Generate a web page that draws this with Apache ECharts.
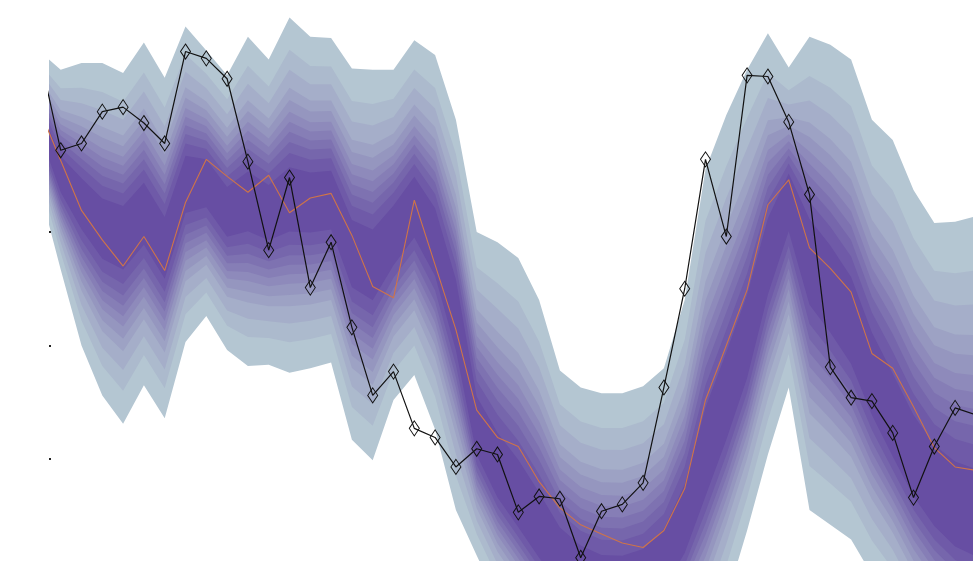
<!DOCTYPE html>
<html><head><meta charset="utf-8">
<script src="https://cdn.jsdelivr.net/npm/echarts@6/dist/echarts.min.js"></script>
<style>html,body{margin:0;padding:0;background:#fff}#c{width:973px;height:561px}</style>
</head><body><div id="c"></div>
<script>
// x positions (period index)
const periods = [0,1,2,3,4,5,6,7,8,9,10,11,12,13,14,15,16,17,18,19,20,21,22,23,24,25,26,27,28,29,30,31,32,33,34,35,36,37,38,39,40,41,42,43,44,45];
// observed series (black line with diamonds)
const actual = [4.55,3.72,3.78,4.06,4.10,3.96,3.78,4.59,4.53,4.35,3.62,2.84,3.48,2.51,2.91,2.16,1.56,1.77,1.27,1.19,0.93,1.09,1.04,0.53,0.67,0.65,0.13,0.54,0.60,0.79,1.63,2.50,3.64,2.96,4.38,4.37,3.97,3.33,1.81,1.54,1.51,1.23,0.66,1.11,1.45,1.39];
// orange line
const median = [4.07,3.63,3.19,2.93,2.70,2.96,2.66,3.26,3.64,3.49,3.35,3.50,3.17,3.30,3.34,2.97,2.52,2.42,3.28,2.71,2.14,1.43,1.19,1.11,0.80,0.57,0.42,0.34,0.26,0.22,0.37,0.74,1.52,2.00,2.49,3.24,3.46,2.86,2.68,2.47,1.93,1.80,1.46,1.10,0.93,0.90];
// fan: outer upper edge, centre of the dark core, outer lower edge
const fanUpper = [4.59,4.43,4.49,4.49,4.40,4.67,4.36,4.81,4.60,4.38,4.72,4.52,4.89,4.72,4.71,4.44,4.43,4.43,4.69,4.56,3.99,3.00,2.91,2.77,2.40,1.78,1.63,1.58,1.58,1.64,1.80,2.40,3.55,4.03,4.43,4.75,4.45,4.72,4.65,4.52,3.99,3.81,3.37,3.08,3.09,3.14];
const fanCenter = [3.98,3.50,3.25,3.03,2.97,3.16,2.86,3.42,3.43,3.18,3.27,3.17,3.28,3.26,3.28,2.81,2.71,2.97,3.22,2.91,2.27,1.23,0.86,0.60,0.33,0.09,-0.07,-0.16,-0.17,-0.11,0.07,0.42,0.99,1.48,2.01,2.76,3.31,2.76,2.49,2.18,1.70,1.30,0.95,0.69,0.51,0.42];
const fanLower = [3.37,2.67,2.00,1.56,1.31,1.65,1.36,2.03,2.26,1.96,1.82,1.83,1.76,1.80,1.85,1.17,0.99,1.52,1.74,1.26,0.55,0.15,-0.24,-0.51,-0.77,-1.04,-1.12,-1.21,-1.26,-1.21,-1.12,-0.95,-0.77,-0.24,0.37,1.04,1.63,0.55,0.42,0.29,-0.02,-0.24,-0.59,-0.86,-1.04,-1.12];
// band boundaries as a share of the distance from the centre to the outer edge
const bandShares = [1, 0.824, 0.714, 0.615, 0.549, 0.484, 0.429, 0.374, 0.319, 0.258, 0.181];
const yTicks = [1, 2, 3];

const chart = echarts.init(document.getElementById('c'), null, {renderer: 'canvas'});
const outerCol = [180, 198, 210], innerCol = [103, 78, 163];
const nL = bandShares.length;
const cols = bandShares.map((_, k) => {
  const t = k / (nL - 1);
  const c = outerCol.map((v, j) => Math.round(v + (innerCol[j] - v) * t));
  return 'rgb(' + c.join(',') + ')';
});
const upperB = bandShares.map(g => periods.map((p, i) => [p, fanCenter[i] + (fanUpper[i] - fanCenter[i]) * g]));
const lowerB = bandShares.map(g => periods.map((p, i) => [p, fanCenter[i] + (fanLower[i] - fanCenter[i]) * g]));

const series = [];
const area = (data, color) => ({
  type: 'line', data, showSymbol: false, silent: true, z: 2,
  lineStyle: {width: 0}, areaStyle: {color, opacity: 1, origin: 'start'},
  clip: true
});
for (let k = 0; k < nL; k++) series.push(area(upperB[k], cols[k]));
for (let k = nL - 1; k >= 0; k--) series.push(area(lowerB[k], k > 0 ? cols[k - 1] : '#ffffff'));
series.push({
  type: 'line', data: periods.map((p, i) => [p, median[i]]), showSymbol: false, z: 5,
  lineStyle: {color: '#cf7448', width: 1.1}, clip: true
});
series.push({
  type: 'line', data: periods.map((p, i) => [p, actual[i]]), z: 6,
  symbol: 'diamond', symbolSize: [10, 15],
  itemStyle: {color: 'rgba(0,0,0,0)', borderColor: '#111', borderWidth: 1},
  lineStyle: {color: '#111', width: 1.2}, clip: true
});

chart.setOption({
  animation: false,
  backgroundColor: '#ffffff',
  grid: {left: 49, right: 0, top: 0, bottom: 0},
  xAxis: {type: 'value', min: 0.4375, max: 44.86, show: false},
  yAxis: {
    type: 'value', min: 0.1013, max: 5.044, z: 10,
    axisLine: {show: false}, splitLine: {show: false}, axisLabel: {show: false},
    axisTick: {show: true, inside: true, length: 2, customValues: yTicks, lineStyle: {color: '#222', width: 2}}
  },
  series
});
</script></body></html>
